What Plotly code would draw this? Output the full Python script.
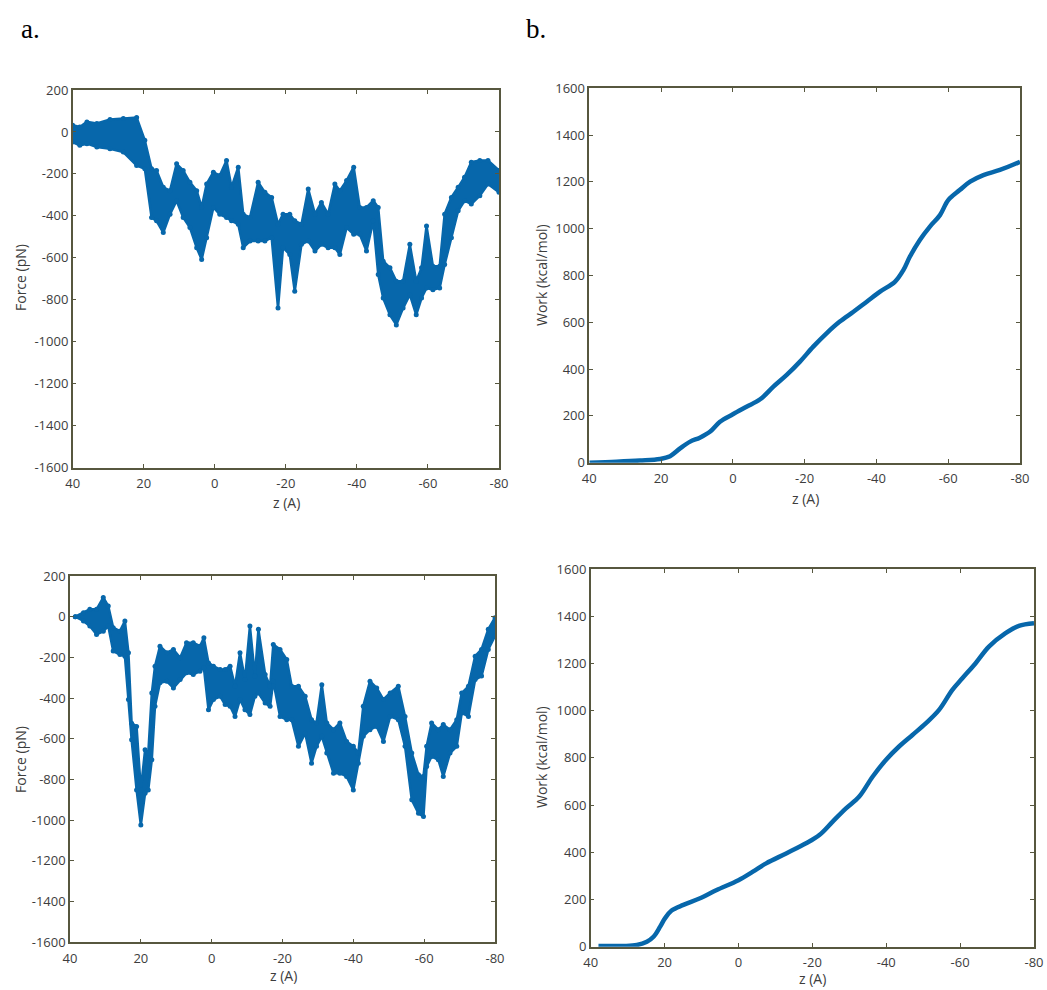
import plotly.graph_objects as go

# ---------------- data ----------------
# Panel a (top): pulling force band, z (A) with upper / lower envelope (pN)
f1_z = [40, 38, 36, 33.2, 29.5, 25.75, 22, 19.7, 17.8, 16.4, 14.5, 12.6, 10.75, 8.9, 7, 5.1, 3.7, 2.3,
        0.4, -1.4, -3.3, -4.7, -6.6, -8, -9.9, -12.2, -14.1, -16, -17.8, -19.2, -21.1, -22.5, -24.4,
        -26.3, -28.2, -30, -31.9, -33.8, -35.2, -37.1, -39.1, -40.8, -42.7, -44.6, -46, -47.4, -49.3,
        -51.1, -53, -54.9, -56.7, -58.2, -59.6, -61.4, -63.3, -64.7, -66.6, -68.5, -70.3, -72.2,
        -74.6, -76.9, -80]
f1_hi = [32, 24, 48, 40, 59, 64, 69, -40, -176, -184, -264, -280, -152, -184, -240, -280, -360, -248,
         -192, -208, -136, -264, -168, -392, -408, -240, -288, -312, -440, -392, -392, -424, -440,
         -272, -392, -336, -392, -248, -280, -232, -168, -360, -360, -328, -360, -616, -648,
         -712, -712, -536, -712, -648, -448, -640, -640, -392, -312, -264, -216, -144,
         -136, -136, -184]
f1_lo = [-48, -64, -56, -72, -80, -96, -160, -176, -408, -424, -480, -392, -328, -408, -456, -552, -608, -504,
         -360, -392, -408, -424, -440, -552, -520, -520, -520, -504, -840, -552, -584, -760, -536,
         -520, -568, -536, -552, -552, -584, -456, -488, -488, -568, -424, -680, -792, -872,
         -920, -840, -776, -872, -792, -744, -752, -744, -632, -504, -376, -328, -344,
         -304, -248, -288]

# Panel a (bottom)
f2_z = [38.5, 36.2, 34.4, 32.5, 30.6, 29.2, 27.8, 25.9, 24.5, 23.5, 22.6, 21.2, 20, 18.8, 17.9, 16.9,
        16, 14.6, 12.7, 10.8, 8.9, 7.1, 5.2, 3.3, 2.2, 0.9, -0.5, -2.4, -3.8, -5.2, -6.6, -8, -9.4,
        -10.8, -12.2, -13.2, -15.1, -16.5, -17.4, -19.3, -21.2, -22.6, -24.5, -26.4, -28.2, -29.6,
        -31.1, -32.5, -34.4, -36.2, -38.1, -40, -41.4, -42.8, -44.7, -46.6, -48.5, -50.4, -52.7,
        -54.6, -56.5, -58.4, -59.8, -60.7, -62.1, -64, -65.4, -67.3, -69.2, -70.6, -72.5, -74.4,
        -76.2, -78.1, -80]
f2_hi = [0, 20, 36, 36, 94, 53, -54, -71, -21, -177, -523, -539, -851, -654, -670, -375,
         -243, -145, -177, -161, -202, -128, -128, -145, -104, -227, -243, -260, -260, -243, -342, -177, -309,
         -46, -292, -62, -284, -342, -136, -161, -210, -342, -342, -391, -506, -522,
         -334, -522, -555, -522, -613, -637, -670, -440, -317, -350, -407, -375, -342,
         -490, -670, -777, -785, -637, -522, -555, -530, -555, -506, -375, -342, -194,
         -161, -62, -5]
f2_lo = [0, -21, -46, -87, -71, -46, -169, -186, -194, -407, -605, -851, -1024, -868, -851, -703,
         -440, -325, -317, -350, -309, -276, -284, -268, -251, -457, -407, -391, -432, -440, -490, -407, -457,
         -481, -391, -375, -424, -440, -317, -490, -506, -506, -637, -572, -720, -637,
         -588, -670, -769, -769, -785, -851, -720, -588, -555, -539, -613, -490, -506,
         -637, -900, -966, -982, -736, -687, -703, -785, -670, -637, -473, -490, -309,
         -292, -161, -95]

# Panel b (top): accumulated work (kcal/mol)
w1_z = [40, 32.4, 25.9, 20.3, 17.5, 14.7, 11.9, 9.2, 6.4, 3.6, 0, -3.8, -7.6, -11.3, -15, -18.7,
        -22.4, -26.1, -29.8, -33.6, -37.3, -41, -45.2, -47.5, -49.3, -52.1, -54.9, -57.7, -60,
        -63.2, -66.1, -69.8, -74.4, -80]
w1_v = [0, 4, 9, 16, 28, 61, 90, 107, 132, 175, 207, 239, 271, 325, 375, 432,
        496, 553, 603, 645, 688, 731, 774, 823, 880, 952, 1009, 1058, 1122,
        1165, 1201, 1229, 1251, 1286]

# Panel b (bottom)
w2_z = [37.9, 31.2, 27.5, 24.8, 23, 21.2, 19.9, 18.1, 14.9, 10.4, 5.9, 0, -3.9, -7.5, -12.9, -18.3,
        -21.9, -25.5, -29.1, -32.7, -36.3, -39.9, -43.4, -47.1, -50.7, -54.3, -57.9, -60.6, -64.2,
        -67.8, -72.3, -75.9, -80]
w2_v = [3, 3, 7, 21, 42, 85, 120, 153, 177, 205, 240, 282, 318, 353, 395, 438,
        473, 530, 586, 636, 720, 791, 847, 897, 946, 1003, 1088, 1137, 1201,
        1271, 1328, 1359, 1370]

x_ticks = [40, 20, 0, -20, -40, -60, -80]
force_ticks = list(range(-1600, 201, 200))
work_ticks = list(range(0, 1601, 200))

# ---------------- styling ----------------
BLUE = "#0767ab"
FRAME = "#57573f"
TICKFONT = dict(family="Open Sans, DejaVu Sans, sans-serif", size=13, color="#3d3d3d")
LABELFONT = dict(family="Open Sans, DejaVu Sans, sans-serif", size=14, color="#3d3d3d")

W, H = 1047, 990
def px_x(p):
    return p / W
def px_y(p):
    return 1 - p / H

fig = go.Figure()

def band(z, hi, lo, xa, ya):
    fig.add_trace(go.Scatter(x=z, y=hi, mode="lines+markers", line=dict(color=BLUE, width=2.5),
                             marker=dict(color=BLUE, size=5),
                             xaxis=xa, yaxis=ya, showlegend=False, hoverinfo="skip"))
    fig.add_trace(go.Scatter(x=z, y=lo, mode="lines+markers", line=dict(color=BLUE, width=2.5),
                             marker=dict(color=BLUE, size=5),
                             fill="tonexty", fillcolor=BLUE,
                             xaxis=xa, yaxis=ya, showlegend=False, hoverinfo="skip"))

band(f1_z, f1_hi, f1_lo, "x", "y")
band(f2_z, f2_hi, f2_lo, "x3", "y3")
fig.add_trace(go.Scatter(x=w1_z, y=w1_v, mode="lines", line=dict(color=BLUE, width=4.5, shape="spline"),
                         xaxis="x2", yaxis="y2", showlegend=False))
fig.add_trace(go.Scatter(x=w2_z, y=w2_v, mode="lines", line=dict(color=BLUE, width=4.5, shape="spline"),
                         xaxis="x4", yaxis="y4", showlegend=False))

def xax(dom, anchor):
    return dict(domain=dom, anchor=anchor, range=[40, -80], tickvals=x_ticks,
                ticktext=[str(t) for t in x_ticks], ticks="inside", ticklen=4, tickcolor=FRAME,
                showline=True, linecolor=FRAME, linewidth=1.5, mirror="ticks", showgrid=False,
                zeroline=False, tickfont=TICKFONT, automargin=False, ticklabelstandoff=3)

def yax(dom, anchor, rng, vals):
    return dict(domain=dom, anchor=anchor, range=rng, tickvals=vals,
                ticktext=[str(t) for t in vals], ticks="inside", ticklen=4, tickcolor=FRAME,
                showline=True, linecolor=FRAME, linewidth=1.5, mirror="ticks", showgrid=False,
                zeroline=False, tickfont=TICKFONT, automargin=False)

# panel boxes in pixels: (left, right, top, bottom)
TL = (72.7, 499, 90, 467.5)
TR = (589.3, 1020, 88.3, 462.7)
BL = (70, 495, 576, 942.3)
BR = (590.7, 1034, 569, 946.7)

def dx(b):
    return [px_x(b[0]), px_x(b[1])]
def dy(b):
    return [px_y(b[3]), px_y(b[2])]

fig.update_layout(
    width=W, height=H, autosize=False,
    margin=dict(l=0, r=0, t=0, b=0, pad=0, autoexpand=False),
    paper_bgcolor="white", plot_bgcolor="white",
    xaxis=xax(dx(TL), "y"), yaxis=yax(dy(TL), "x", [-1600, 200], force_ticks),
    xaxis2=xax(dx(TR), "y2"), yaxis2=yax(dy(TR), "x2", [0, 1600], work_ticks),
    xaxis3=xax(dx(BL), "y3"), yaxis3=yax(dy(BL), "x3", [-1600, 200], force_ticks),
    xaxis4=xax(dx(BR), "y4"), yaxis4=yax(dy(BR), "x4", [0, 1600], work_ticks),
)

ann = []
def label(text, x, y, angle=0, font=LABELFONT):
    ann.append(dict(text=text, x=px_x(x), y=px_y(y), xref="paper", yref="paper",
                    showarrow=False, textangle=angle, font=font,
                    xanchor="center", yanchor="middle"))

label("Force (pN)", 20, 278, -90)
label("z (A)", 286, 502)
label("Work (kcal/mol)", 541, 275, -90)
label("z (A)", 805, 498)
label("Force (pN)", 20, 760, -90)
label("z (A)", 283, 975)
label("Work (kcal/mol)", 541, 757, -90)
label("z (A)", 812, 978)

SERIF = dict(family="Liberation Serif, Times New Roman, serif", size=27, color="black")
label("a.", 30, 29, 0, SERIF)
label("b.", 536, 29, 0, SERIF)

fig.update_layout(annotations=ann)

fig.write_html(
    "out.html",
    config={"responsive": False, "displayModeBar": False},
    post_script="document.body.style.margin='0';document.body.style.overflow='hidden';",
)
